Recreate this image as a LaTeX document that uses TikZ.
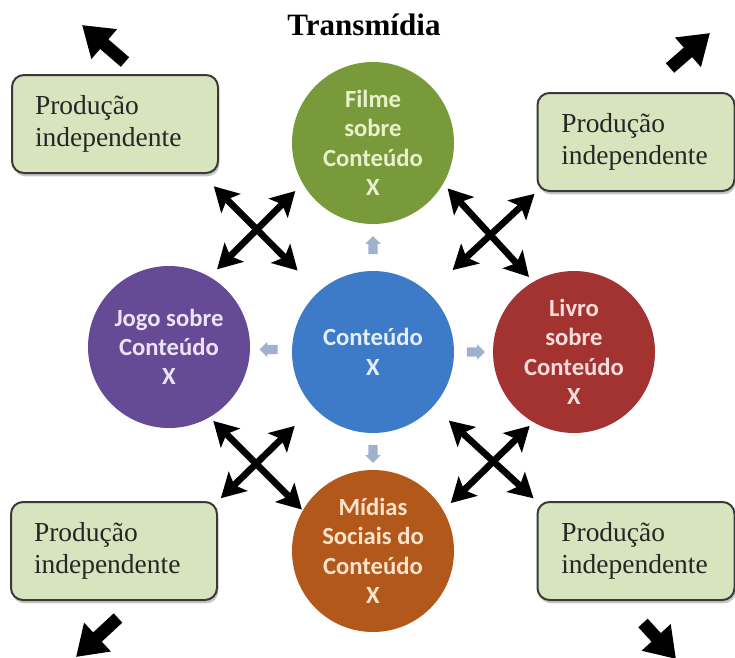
\documentclass[tikz,border=0pt]{standalone}
\usepackage{fontspec}
\setmainfont{Liberation Serif}
\newfontfamily\calibri{Carlito}
\usepackage{tikz}
\usetikzlibrary{arrows.meta,shapes.arrows,shadows,calc}

\definecolor{filmeGreen}{HTML}{799A3B}
\definecolor{filmeText}{HTML}{E8F1CC}
\definecolor{conteudoBlue}{HTML}{3D7BC8}
\definecolor{conteudoText}{HTML}{E4EEFB}
\definecolor{jogoPurple}{HTML}{654A95}
\definecolor{jogoText}{HTML}{ECE4F6}
\definecolor{livroRed}{HTML}{A23331}
\definecolor{livroText}{HTML}{F9DCD9}
\definecolor{midiasOrange}{HTML}{B1581A}
\definecolor{midiasText}{HTML}{FBE2CB}
\definecolor{boxFill}{HTML}{D8E4BD}
\definecolor{boxLine}{HTML}{3A3A3A}
\definecolor{stepBlue}{HTML}{9FB1CD}

\tikzset{
  midia/.style={circle, inner sep=0pt, outer sep=0pt, minimum size=121.5pt, align=center,
    font=\calibri\bfseries\fontsize{18.5}{22}\selectfont},
  prod/.style={draw=boxLine, line width=1.5pt, fill=boxFill, rounded corners=9pt,
    text width=112pt, inner xsep=0pt, inner ysep=0pt, minimum height=73.5pt, align=left,
    text=black!85, font=\fontsize{20.6}{24}\selectfont,
    drop shadow={shadow xshift=1pt, shadow yshift=-2.5pt, fill=black!50, opacity=.45}},
  elo/.style={line width=5pt,
    {Stealth[length=18pt,width=20pt,inset=4pt]}-{Stealth[length=18pt,width=20pt,inset=4pt]}},
  saida/.style={line width=9.5pt, -{Triangle[length=22pt,width=28pt]}},
  passo/.style={single arrow, fill=stepBlue, inner xsep=0pt, inner ysep=3.3pt,
    minimum height=13.5pt, single arrow head extend=2.2pt, single arrow head indent=0pt}
}

\begin{document}
\begin{tikzpicture}[x=0.75pt,y=0.75pt,yscale=-1,xscale=1]
\useasboundingbox (0,0) rectangle (735,657);
\clip (0,0) rectangle (735,657);

% Text Node
\node[font=\bfseries\fontsize{23.3}{28}\selectfont, anchor=base] (titulo) at (364,35) {Transmídia};

%Shape: Circle
\node[midia, fill=filmeGreen, text=filmeText] (filme) at (373,143) {Filme\\sobre\\Conteúdo\\X};
%Shape: Circle
\node[midia, fill=conteudoBlue, text=conteudoText] (conteudo) at (373,352) {Conteúdo\\X};
%Shape: Circle
\node[midia, fill=jogoPurple, text=jogoText] (jogo) at (169,347) {Jogo sobre\\Conteúdo\\X};
%Shape: Circle
\node[midia, fill=livroRed, text=livroText] (livro) at (574,352) {Livro\\sobre\\Conteúdo\\X};
%Shape: Circle
\node[midia, fill=midiasOrange, text=midiasText] (midias) at (373,551) {Mídias\\Sociais do\\Conteúdo\\X};

%Shape: Small Arrows
\node[passo, rotate=90] (passoF) at ($(conteudo)!0.5!(filme)$) {};
\node[passo, rotate=180] (passoJ) at ($(conteudo)!0.5!(jogo)$) {};
\node[passo] (passoL) at ($(conteudo)!0.5!(livro)$) {};
\node[passo, rotate=-90] (passoM) at ($(conteudo)!0.5!(midias)$) {};

%Shape: Rounded Rect
\node[prod, minimum width=154.5pt, text width=120pt] (prodTL) at (115,124) {Produção\\independente};
%Shape: Rounded Rect
\node[prod, minimum width=147.75pt] (prodTR) at (636,142) {Produção\\independente};
%Shape: Rounded Rect
\node[prod, minimum width=154.5pt, text width=120pt] (prodBL) at (114,551) {Produção\\independente};
%Shape: Rounded Rect
\node[prod, minimum width=147.75pt] (prodBR) at (636,551) {Produção\\independente};

%Straight Lines
\draw[elo, shorten <=8pt, shorten >=8pt] (jogo.60) -- (filme.210);
\draw[elo, shorten <=13pt, shorten >=22.5pt] (prodTL.-30) -- (conteudo.132);
%Straight Lines
\draw[elo, shorten <=5pt, shorten >=5pt] (filme.-30) -- (livro.120);
\draw[elo, shorten <=2pt, shorten >=25pt] (prodTR.south west) -- (conteudo.47);
%Straight Lines
\draw[elo, shorten <=4pt, shorten >=1pt] (jogo.-60) -- (midias.150);
\draw[elo, shorten <=20pt, shorten >=3pt] (conteudo.223) -- (prodBL.north east);
%Straight Lines
\draw[elo, shorten <=16pt, shorten >=3pt] (conteudo.-42) -- (prodBR.north west);
\draw[elo, shorten <=4pt, shorten >=8pt] (livro.240) -- (midias.30);

%Corner Arrows
\coordinate (baseTL) at (125,62);  \coordinate (pontaTL) at (82,25);
\coordinate (baseTR) at (670,68);  \coordinate (pontaTR) at (710,33);
\coordinate (baseBL) at (118,618); \coordinate (pontaBL) at (76,657);
\coordinate (baseBR) at (643,623); \coordinate (pontaBR) at (676,659);
\draw[saida] (baseTL) -- (pontaTL);
\draw[saida] (baseTR) -- (pontaTR);
\draw[saida] (baseBL) -- (pontaBL);
\draw[saida] (baseBR) -- (pontaBR);

\end{tikzpicture}
\end{document}
